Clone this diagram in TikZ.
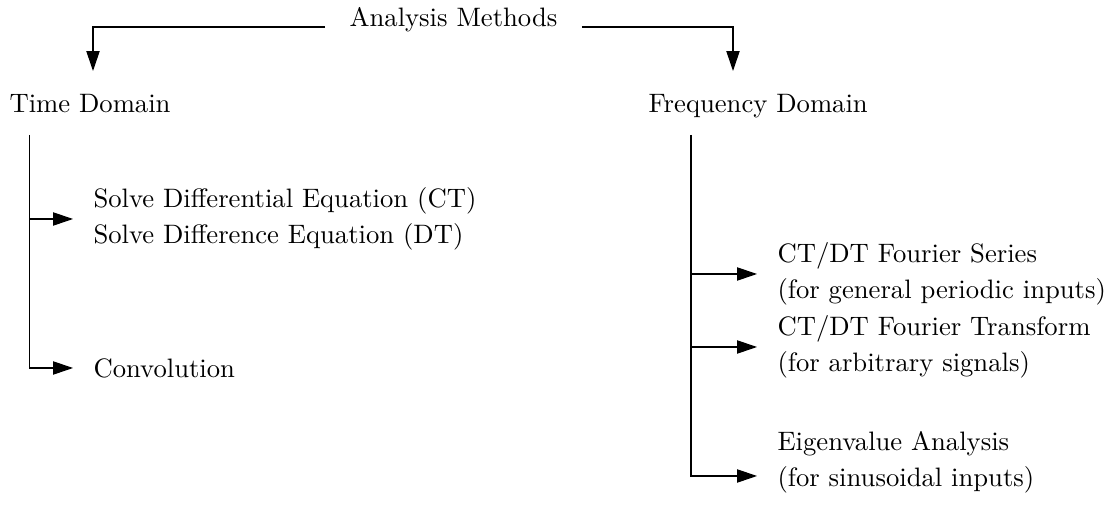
\documentclass[tikz,border=0pt]{standalone}
\usetikzlibrary{arrows.meta}
\begin{document}
\begin{tikzpicture}[x=0.3752pt,y=-0.3752pt,
    head/.style={inner sep=0pt,anchor=base west},
    item/.style={inner sep=0pt,anchor=west,align=left},
    link/.style={draw=black,-{Triangle[length=7.5pt,width=5pt]}}]
  \useasboundingbox (0,0) rectangle (1111,512);
  % headings
  \node[inner xsep=9pt,inner ysep=0pt,anchor=base] (am) at (453.5,27) {Analysis Methods};
  \node[head] (td) at (9,113) {Time Domain};
  \node[head] (fd) at (648,113) {Frequency Domain};
  \coordinate (tdin) at (93,71);
  \coordinate (fdin) at (733,71);
  \coordinate (tdtop) at (29.5,135);
  \coordinate (fdtop) at (691,135);
  % methods
  \node[item] (sde) at (93,219) {Solve Differential Equation (CT)\\[1.5pt]Solve Difference Equation (DT)};
  \node[item] (conv) at (93,368) {Convolution};
  \node[item] (fs) at (777,274) {CT/DT Fourier Series\\[1.5pt](for general periodic inputs)};
  \node[item] (ft) at (777,347) {CT/DT Fourier Transform\\[1.5pt](for arbitrary signals)};
  \node[item] (eig) at (777,462) {Eigenvalue Analysis\\[1.5pt](for sinusoidal inputs)};
  % connectors
  \draw[link] (am.base west) -| (tdin);
  \draw[link] (am.base east) -| (fdin);
  \draw[link] (tdtop |- sde.west) -- ([xshift=-7.5pt]sde.west);
  \draw[link] (tdtop) |- ([xshift=-7.5pt]conv.west);
  \draw[link] (fdtop |- fs.west) -- ([xshift=-7.5pt]fs.west);
  \draw[link] (fdtop |- ft.west) -- ([xshift=-7.5pt]ft.west);
  \draw[link] (fdtop) |- ([xshift=-7.5pt,yshift=-5.25pt]eig.west);
\end{tikzpicture}
\end{document}
